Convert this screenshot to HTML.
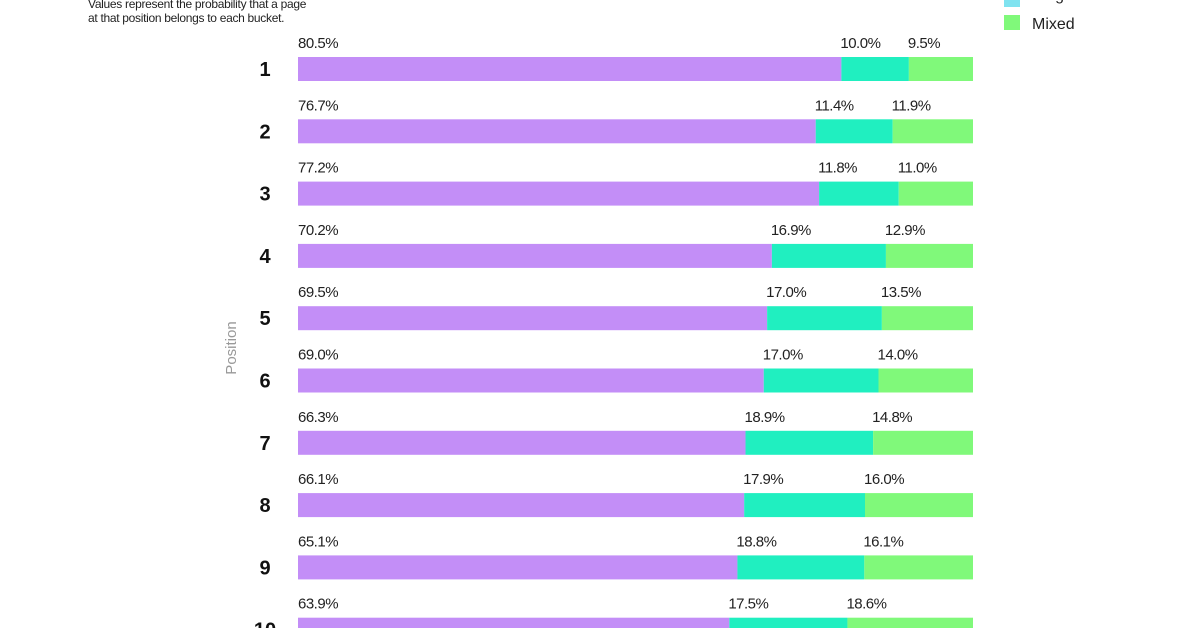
<!DOCTYPE html>
<html><head><meta charset="utf-8"><style>
body{margin:0;background:#fff;font-family:"Liberation Sans",sans-serif}
svg text{font-family:"Liberation Sans",sans-serif}
</style></head><body>
<svg id="chart" width="1200" height="628" viewBox="0 0 1200 628">
<text x="88" y="8" font-size="12" fill="#222" letter-spacing="-0.3">Values represent the probability that a page</text>
<text x="88" y="22" font-size="12" fill="#222" letter-spacing="-0.3">at that position belongs to each bucket.</text>
<rect x="1004" y="-8" width="16" height="15" fill="#7fe3f0"/>
<text x="1032" y="0" font-size="16" fill="#222">Single</text>
<rect x="1004" y="15" width="16" height="15" fill="#80f97a"/>
<text x="1032" y="29" font-size="16" fill="#222">Mixed</text>
<text transform="translate(236,348) rotate(-90)" text-anchor="middle" font-size="15" fill="#999">Position</text>
<g id="bars"></g>
</svg>
<script>
const positions = ["1","2","3","4","5","6","7","8","9","10"];
const seriesA = [80.5,76.7,77.2,70.2,69.5,69.0,66.3,66.1,65.1,63.9];
const seriesB = [10.0,11.4,11.8,16.9,17.0,17.0,18.9,17.9,18.8,17.5];
const seriesC = [9.5,11.9,11.0,12.9,13.5,14.0,14.8,16.0,16.1,18.6];
const colors = ["#c38ef7","#20efc0","#80f97a"];
const segNames = ["purple","teal","green"];
const x0 = 298, W = 675, top0 = 57, step = 62.3, bh = 24;
const xs = v => v / 100 * W;
const ys = i => top0 + i * step;
const g = document.getElementById('bars');
const NS = "http://www.w3.org/2000/svg";
positions.forEach((p, i) => {
  const y = ys(i);
  const t = document.createElementNS(NS, 'text');
  t.setAttribute('x', 265); t.setAttribute('y', y + bh/2 + 7);
  t.setAttribute('text-anchor', 'middle'); t.setAttribute('font-size', '20');
  t.setAttribute('font-weight', 'bold'); t.setAttribute('fill', '#111');
  t.textContent = p;
  
  
  g.appendChild(t);
  const vals = [seriesA[i], seriesB[i], seriesC[i]];
  const tot = vals[0] + vals[1] + vals[2];
  let acc = 0;
  vals.forEach((v, k) => {
    const x = x0 + xs(acc / tot * 100);
    const w = xs(v / tot * 100);
    const r = document.createElementNS(NS, 'rect');
    r.setAttribute('x', x); r.setAttribute('y', y);
    r.setAttribute('width', w); r.setAttribute('height', bh);
    r.setAttribute('fill', colors[k]);
    
    
    g.appendChild(r);
    const l = document.createElementNS(NS, 'text');
    l.setAttribute('x', x - (k ? 1 : 0)); l.setAttribute('y', y - 9);
    l.setAttribute('font-size', '15'); l.setAttribute('fill', '#222');
    l.setAttribute('letter-spacing', '-0.5');
    l.textContent = v.toFixed(1) + '%';
    
    
    g.appendChild(l);
    acc += v;
  });
});
</script>
</body></html>
